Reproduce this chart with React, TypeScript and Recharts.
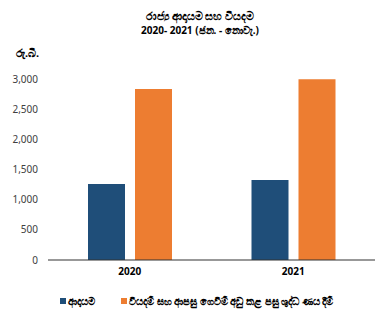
import React from 'react'
import { BarChart, Bar, XAxis, YAxis } from 'recharts'

const years = ['2020', '2021']
const revenue = [1260, 1326]
const expenditure = [2835, 2995]
const yTicks = [0, 500, 1000, 1500, 2000, 2500, 3000]
const seriesNames = ['ආදායම', 'වියදම් සහ ආපසු ගෙවීම් අඩු කළ පසු ශුද්ධ ණය දීම්']
const seriesColors = ['#1F4E79', '#ED7D31']

const data = years.map((y, i) => ({ year: y, revenue: revenue[i], expenditure: expenditure[i] }))

const font = '"Noto Sans", "Open Sans", "DejaVu Sans", sans-serif'

const App = () => {
  return (
    <div style={{ position: 'absolute', left: 0, top: 0, width: 377, height: 317, background: '#fff', fontFamily: font }}>
      {/* Title */}
      <div style={{ position: 'absolute', top: 9, left: 0, width: 400, textAlign: 'center', fontSize: 11, fontWeight: 700, lineHeight: '14px', color: '#000' }}>
        <div>රාජ්‍ය ආදායම සහ වියදම</div>
        <div style={{ fontSize: 10 }}>2020- 2021 (ජන. - නොවැ.)</div>
      </div>
      {/* Unit */}
      <div style={{ position: 'absolute', top: 45, left: 16, fontSize: 11, fontWeight: 700, color: '#000' }}>රු.බි.</div>

      <BarChart
        width={377}
        height={317}
        data={data}
        margin={{ top: 79, right: 2, bottom: 27, left: 0 }}
        barGap={10}
        barSize={37}
      >
        <XAxis
          dataKey="year"
          tickLine={false}
          axisLine={{ stroke: '#333', strokeWidth: 1.2 }}
          tick={{ fontSize: 10, fontWeight: 700, fill: '#000', fontFamily: font }}
        />
        <YAxis
          width={48}
          domain={[0, 3000]}
          ticks={yTicks}
          axisLine={false}
          tickLine={false}
          tickMargin={4}
          tickFormatter={(v: number) => v.toLocaleString('en-US')}
          tick={{ fontSize: 10, fill: '#404040', fontFamily: font }}
        />
        <Bar dataKey="revenue" fill={seriesColors[0]} isAnimationActive={false} />
        <Bar dataKey="expenditure" fill={seriesColors[1]} isAnimationActive={false} />
      </BarChart>

      {/* Legend */}
      <div style={{ position: 'absolute', top: 294, left: 60, display: 'flex', fontSize: 10, fontWeight: 700, color: '#000', whiteSpace: 'nowrap' }}>
        {seriesNames.map((n, i) => (
          <div key={n} style={{ display: 'flex', alignItems: 'center', marginRight: i === 0 ? 26 : 0 }}>
            <span style={{ display: 'inline-block', width: 6, height: 6, background: seriesColors[i], marginRight: 2 }} />
            <span>{n}</span>
          </div>
        ))}
      </div>
    </div>
  )
}

export default App
